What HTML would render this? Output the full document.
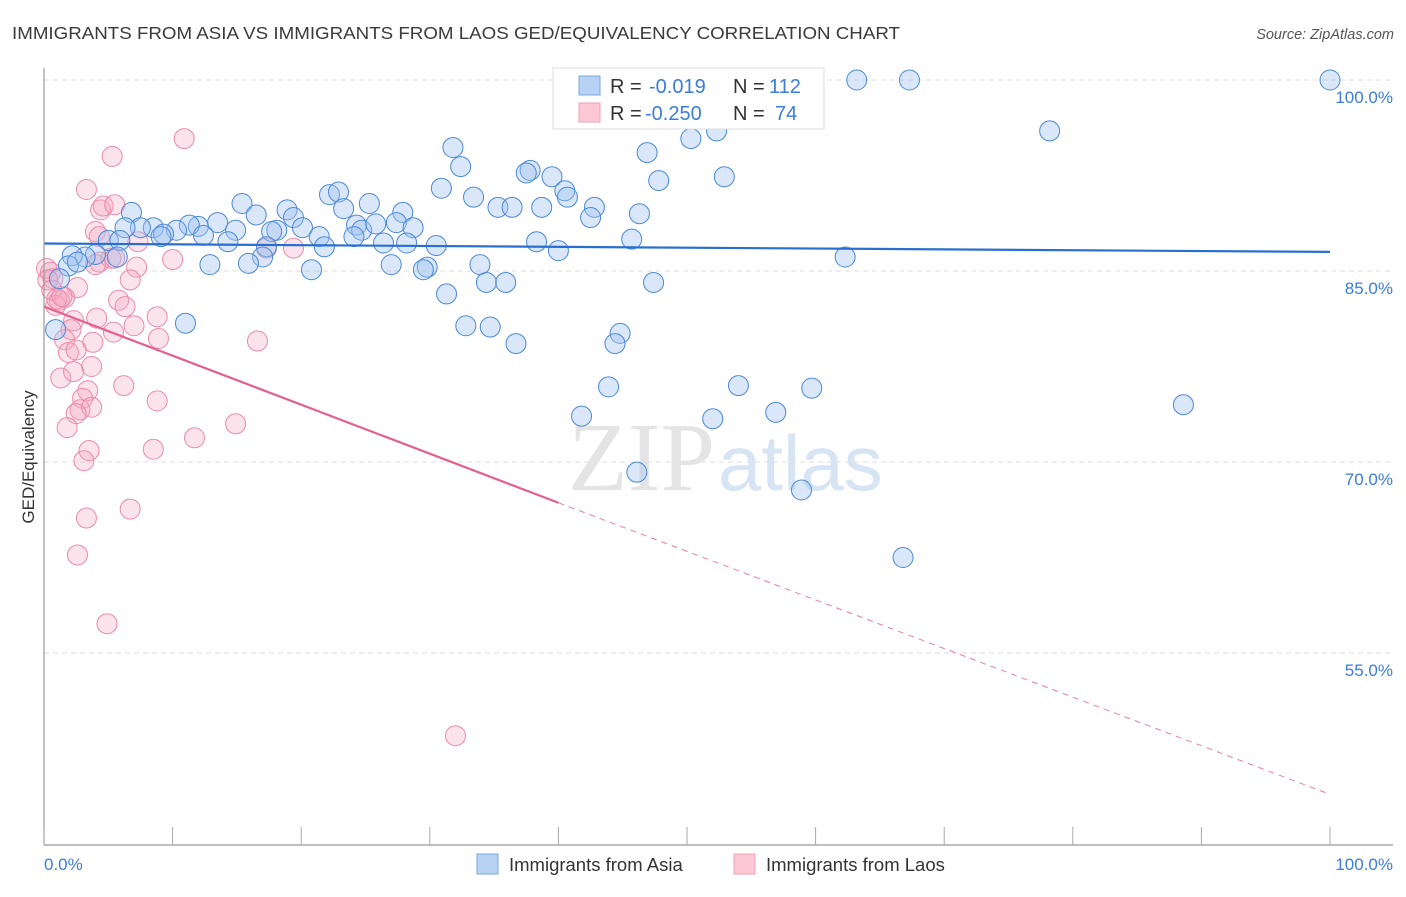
<!DOCTYPE html>
<html><head><meta charset="utf-8"><style>
body{margin:0;background:#fff;font-family:"Liberation Sans",sans-serif}
</style></head><body>
<svg id="chart" width="1406" height="892" xmlns="http://www.w3.org/2000/svg">
<text x="12" y="39" font-size="17.5" fill="#3a3a3a" textLength="888" lengthAdjust="spacingAndGlyphs">IMMIGRANTS FROM ASIA VS IMMIGRANTS FROM LAOS GED/EQUIVALENCY CORRELATION CHART</text>
<text x="1394" y="39" font-size="14.5" fill="#555" text-anchor="end" font-style="italic">Source: ZipAtlas.com</text>
<g id="grid"></g>
<text x="715" y="490" font-size="98" fill="#e4e4e4" text-anchor="end" font-family="Liberation Serif,serif">ZIP</text>
<text x="718" y="490" font-size="78" fill="#d6e4f4">atlas</text>
<g id="pts"></g>
<g id="lines"></g>
<line x1="44" y1="68" x2="44" y2="845" stroke="#999" stroke-width="1.2"/>
<line x1="44" y1="845" x2="1393" y2="845" stroke="#999" stroke-width="1.2"/>
<g id="xticks"></g>
<text transform="translate(34,457) rotate(-90)" font-size="17" fill="#333" text-anchor="middle">GED/Equivalency</text>
<text x="44" y="870" font-size="17" fill="#3b7dd8">0.0%</text>
<text x="1393" y="870" font-size="17" fill="#3b7dd8" text-anchor="end">100.0%</text>
<g>
<rect x="553" y="68" width="271" height="61" fill="#fff" stroke="#ddd"/>
<rect x="579" y="76" width="21" height="19" fill="#b8d2f4" stroke="#7aa8e4"/>
<rect x="579" y="103" width="21" height="19" fill="#fcc8d6" stroke="#f0a0b8"/>
<text x="610" y="93" font-size="20" fill="#333">R = </text><text x="649" y="93" font-size="20" fill="#3b7dd8">-0.019</text>
<text x="733" y="93" font-size="20" fill="#333">N = </text><text x="769" y="93" font-size="20" fill="#3b7dd8">112</text>
<text x="610" y="120" font-size="20" fill="#333">R = </text><text x="645" y="120" font-size="20" fill="#3b7dd8">-0.250</text>
<text x="733" y="120" font-size="20" fill="#333">N = </text><text x="775" y="120" font-size="20" fill="#3b7dd8">74</text>
</g>
<g>
<rect x="477" y="854" width="21" height="20" fill="#b8d2f4" stroke="#7aa8e4"/>
<text x="509" y="871" font-size="18.5" fill="#333">Immigrants from Asia</text>
<rect x="734" y="854" width="21" height="20" fill="#fcc8d6" stroke="#f0a0b8"/>
<text x="766" y="871" font-size="18.5" fill="#333">Immigrants from Laos</text>
</g>
</svg>
<script>
const yTicks=[100,85,70,55];
const yTickLabels=["100.0%","85.0%","70.0%","55.0%"];
const xTicks=[0,10,20,30,40,50,60,70,80,90,100];
const asiaX=[100,63.2,67.3,78.2,50.3,52.3,46.9,31.8,32.4,37.8,37.5,39.5,47.8,52.9,30.9,40.5,40.7,33.4,22.2,22.9,35.3,36.4,38.7,42.8,42.5,46.3,25.3,23.3,15.4,16.5,18.9,19.4,6.8,13.5,12.0,11.3,10.3,8.5,7.5,9.3,9.1,6.3,12.4,14.9,14.3,18.1,17.7,20.1,21.4,24.3,24.7,25.8,24.1,27.9,27.4,28.7,21.8,17.3,26.4,28.2,30.5,38.3,40.0,45.7,62.3,17.0,15.9,12.9,20.8,27.0,29.8,29.5,33.9,34.4,35.9,31.3,47.4,5.0,5.9,4.0,3.2,2.2,1.9,2.6,5.7,1.2,11.0,0.9,32.8,34.7,36.7,44.8,44.4,43.9,41.8,46.1,54.0,59.7,56.9,52.0,58.9,66.8,88.6];
const asiaY=[100,100,100,96.0,95.4,96.0,94.3,94.7,93.2,92.9,92.7,92.4,92.1,92.4,91.5,91.3,90.8,90.8,91.0,91.2,90.0,90.0,90.0,90.0,89.2,89.5,90.3,89.9,90.3,89.4,89.8,89.2,89.6,88.8,88.5,88.6,88.2,88.4,88.4,87.9,87.7,88.4,87.8,88.2,87.3,88.2,88.1,88.4,87.7,88.6,88.2,88.7,87.7,89.6,88.8,88.4,86.9,86.9,87.2,87.2,87.0,87.3,86.6,87.5,86.1,86.1,85.6,85.5,85.1,85.5,85.3,85.1,85.5,84.1,84.1,83.2,84.1,87.4,87.4,86.3,86.1,86.2,85.4,85.7,86.1,84.4,80.9,80.4,80.7,80.6,79.3,80.1,79.3,75.9,73.6,69.2,76.0,75.8,73.9,73.4,67.8,62.5,74.5];
const laosX=[10.9,5.3,3.3,4.4,4.6,5.5,4.0,4.3,7.3,17.3,19.4,10.0,5.2,4.3,4.0,7.2,6.7,5.5,0.2,0.5,0.7,2.6,1.2,1.6,5.8,6.3,8.8,4.1,2.3,2.1,5.4,7.0,8.9,3.8,1.6,1.9,2.5,16.6,3.7,1.3,2.3,6.2,3.4,3.0,2.8,3.7,8.8,2.5,1.8,14.9,11.7,3.5,8.5,3.1,6.7,3.3,2.6,4.9,32.0,0.3,0.6,0.9,1.0,1.4];
const laosY=[95.4,94.0,91.4,89.8,90.1,90.2,88.1,87.7,87.3,86.8,86.8,85.9,86.0,85.7,85.5,85.3,84.3,86.0,85.2,84.9,84.4,83.7,82.7,82.9,82.7,82.2,81.4,81.3,81.1,80.4,80.2,80.7,79.7,79.4,79.6,78.6,78.8,79.5,77.5,76.6,77.1,76.0,75.6,75.0,74.1,74.3,74.8,73.8,72.7,73.0,71.9,70.9,71.0,70.1,66.3,65.6,62.7,57.3,48.5,84.3,83.5,82.3,82.8,83.0];
const asiaTrend=[0,87.16,100,86.5];
const laosTrend=[0,82.2,40,66.8,100,43.9];
const NS="http://www.w3.org/2000/svg";
const sx=v=>44+v*12.86, sy=v=>80+(100-v)*12.733;
function mk(tag,attrs,parent){const e=document.createElementNS(NS,tag);for(const k in attrs)e.setAttribute(k,attrs[k]);parent.appendChild(e);return e;}
const grid=document.getElementById('grid');
yTicks.forEach((t,i)=>{
 const l=mk('line',{x1:44,x2:1393,y1:sy(t),y2:sy(t),stroke:'#ddd','stroke-dasharray':'5,4'},grid);
 
 
 const tx=mk('text',{x:1393,y:sy(t)+23,'font-size':17,fill:'#3b7dd8','text-anchor':'end'},grid);
 tx.textContent=yTickLabels[i];
 
 
});
const xt=document.getElementById('xticks');
xTicks.forEach(t=>{
 const l=mk('line',{x1:sx(t),x2:sx(t),y1:827,y2:845,stroke:'#aaa'},xt);
 
 
});
const pts=document.getElementById('pts');
laosX.forEach((x,i)=>{
 const c=mk('circle',{cx:sx(x),cy:sy(laosY[i]),r:10,fill:'rgba(244,168,192,0.32)',stroke:'#ec8aa8','stroke-width':1},pts);
 
 
});
asiaX.forEach((x,i)=>{
 const c=mk('circle',{cx:sx(x),cy:sy(asiaY[i]),r:10,fill:'rgba(160,196,240,0.4)',stroke:'#4a88d8','stroke-width':1},pts);
 
 
});
const ln=document.getElementById('lines');
const a=mk('line',{x1:sx(asiaTrend[0]),y1:sy(asiaTrend[1]),x2:sx(asiaTrend[2]),y2:sy(asiaTrend[3]),stroke:'#2a6fd0','stroke-width':2.2},ln);


const p1=mk('line',{x1:sx(laosTrend[0]),y1:sy(laosTrend[1]),x2:sx(laosTrend[2]),y2:sy(laosTrend[3]),stroke:'#e4608a','stroke-width':2.2},ln);


const p2=mk('line',{x1:sx(laosTrend[2]),y1:sy(laosTrend[3]),x2:sx(laosTrend[4]),y2:sy(laosTrend[5]),stroke:'#e8809e','stroke-width':1,'stroke-dasharray':'6,5'},ln);


</script>
</body></html>
